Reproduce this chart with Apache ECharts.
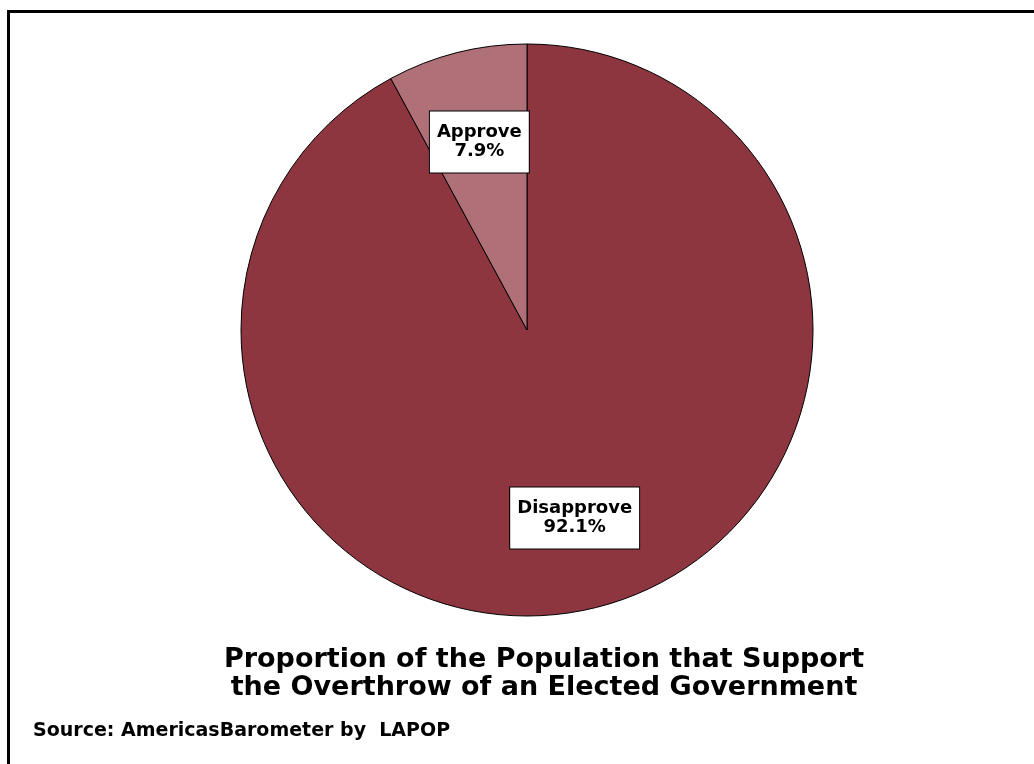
<!DOCTYPE html>
<html>
<head>
<meta charset="utf-8">
<script src="https://cdn.jsdelivr.net/npm/echarts@6/dist/echarts.min.js"></script>
<style>
html,body{margin:0;padding:0;background:#fff;}
#chart{width:1034px;height:764px;}
</style>
</head>
<body>
<div id="chart"></div>
<script>
const categories = ['Disapprove', 'Approve'];
const values = [92.1, 7.9];
const colors = ['#8E3640', '#B07078'];
const titleText = 'Proportion of the Population that Support\nthe Overthrow of an Elected Government';
const sourceText = 'Source: AmericasBarometer by  LAPOP';

const FONT = '"DejaVu Sans", "Liberation Sans", Arial, sans-serif';
const chart = echarts.init(document.getElementById('chart'));
const pieData = categories.map((c, i) => ({ name: c, value: values[i], itemStyle: { color: colors[i] } }));
const labelData = categories.map((c, i) => ({ name: c, value: values[i] }));

chart.setOption({
  animation: false,
  title: {
    text: titleText,
    left: 539,
    top: 641,
    textAlign: 'center',
    textStyle: { fontFamily: FONT, fontWeight: 'bold', fontSize: 27, lineHeight: 28, color: '#000' }
  },
  graphic: [
    { type: 'rect', shape: { x: 8.5, y: 11.5, width: 1040, height: 800 }, style: { fill: 'none', stroke: '#000', lineWidth: 3 }, silent: true, z: 0 },
    { type: 'text', x: 33, y: 722, style: { text: sourceText, font: 'bold 19px ' + FONT, fill: '#000' }, silent: true }
  ],
  series: [
    {
      type: 'pie',
      center: [527, 330],
      radius: [0, 286],
      startAngle: 90,
      clockwise: true,
      silent: true,
      label: { show: false },
      labelLine: { show: false },
      itemStyle: { borderColor: '#000', borderWidth: 1 },
      data: pieData
    },
    {
      type: 'pie',
      center: [527, 330],
      radius: [96, 286],
      startAngle: 90,
      clockwise: true,
      silent: true,
      itemStyle: { color: 'rgba(0,0,0,0)', borderWidth: 0 },
      labelLine: { show: false },
      label: {
        show: true,
        position: 'inside',
        formatter: p => p.name + '\n' + p.value.toFixed(1) + '%',
        fontFamily: FONT,
        fontWeight: 'bold',
        fontSize: 18,
        lineHeight: 19,
        color: '#000',
        backgroundColor: '#fff',
        borderColor: '#000',
        borderWidth: 1,
        padding: [12, 7, 11, 7],
        align: 'center'
      },
      data: labelData
    }
  ]
});
</script>
</body>
</html>
